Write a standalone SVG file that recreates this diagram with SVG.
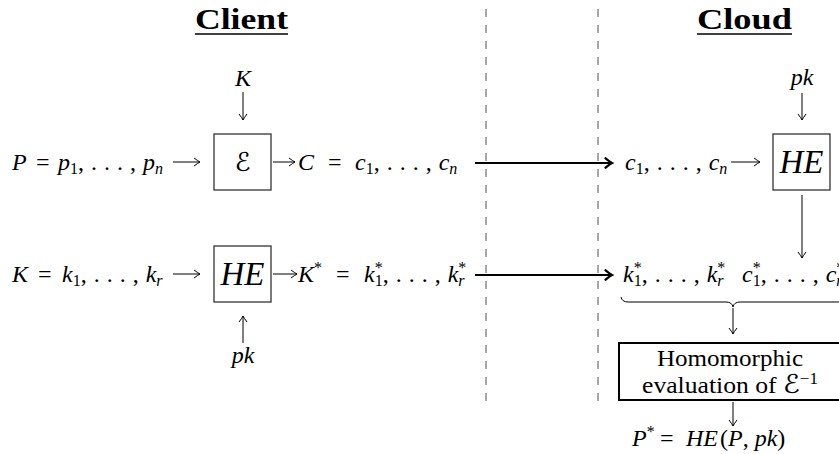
<svg xmlns="http://www.w3.org/2000/svg" width="839" height="454" viewBox="0 0 839 454">
<defs>
<style>
text{font-family:"Liberation Serif","DejaVu Serif",serif;fill:#000;font-size:24px}
.it{font-style:italic}
.sub{font-size:16px}
.ell{letter-spacing:0.5px}
.title{font-weight:bold;font-size:29px}
.cal{font-family:"DejaVu Sans","DejaVu Serif",serif;font-size:26px}
.big{font-style:italic;font-size:33px}
.conn{stroke:#000;stroke-width:1;fill:none}
.thick{stroke:#000;stroke-width:2;fill:none}
.dash{stroke:#777;stroke-width:1.3;stroke-dasharray:8 8;fill:none}
.box{stroke:#333;stroke-width:1.3;fill:#fff}
</style>
<marker id="ah" viewBox="-8 -5 10 10" refX="0" refY="0" markerWidth="10" markerHeight="10" markerUnits="userSpaceOnUse" orient="auto">
<path d="M-6,-4 Q-2,-1 0,0 Q-2,1 -6,4" stroke="#000" stroke-width="1" fill="none"/>
</marker>
<marker id="ahb" viewBox="-8 -5 10 10" refX="0" refY="0" markerWidth="12" markerHeight="12" markerUnits="userSpaceOnUse" orient="auto">
<path d="M-6,-4.5 Q-2,-1 0,0 Q-2,1 -6,4.5" stroke="#000" stroke-width="1.8" fill="none"/>
</marker>
</defs>

<g id="separators">
<line class="dash" x1="486" y1="9" x2="486" y2="402"/>
<line class="dash" x1="598" y1="9" x2="598" y2="402"/>
</g>

<g id="title-client">
<text class="title" x="195" y="29" textLength="93" lengthAdjust="spacingAndGlyphs">Client</text>
<line x1="195" y1="34" x2="288" y2="34" stroke="#000" stroke-width="1.4"/>
</g>
<g id="title-cloud">
<text class="title" x="697" y="29" textLength="95" lengthAdjust="spacingAndGlyphs">Cloud</text>
<line x1="697" y1="34" x2="792" y2="34" stroke="#000" stroke-width="1.4"/>
</g>

<g id="plaintext">
<text x="12" y="170"><tspan class="it">P</tspan><tspan x="36">=</tspan><tspan class="it" x="58">p</tspan><tspan class="sub" dy="4">1</tspan><tspan class="ell" dy="-4">, . . . , </tspan><tspan class="it">p</tspan><tspan class="sub it" dy="4">n</tspan></text>
</g>
<g id="key-K">
<text class="it" x="243" y="86" text-anchor="middle">K</text>
</g>
<g id="enc-box">
<rect class="box" x="214" y="134" width="57" height="56"/>
<text class="cal" x="242.5" y="171" text-anchor="middle">ℰ</text>
</g>
<g id="ciphertext">
<text x="298" y="170"><tspan class="it">C</tspan><tspan x="328">=</tspan><tspan class="it" x="355">c</tspan><tspan class="sub" dy="4">1</tspan><tspan class="ell" dy="-4">, . . . , </tspan><tspan class="it">c</tspan><tspan class="sub it" dy="4">n</tspan></text>
</g>

<g id="key-seq">
<text x="12" y="282"><tspan class="it">K</tspan><tspan x="38">=</tspan><tspan class="it" x="62">k</tspan><tspan class="sub" dy="4">1</tspan><tspan class="ell" dy="-4">, . . . , </tspan><tspan class="it">k</tspan><tspan class="sub it" dy="4">r</tspan></text>
</g>
<g id="he-box-client">
<rect class="box" x="214" y="246" width="57" height="56"/>
<text class="big" x="242.5" y="285" text-anchor="middle">HE</text>
</g>
<g id="pk-client">
<text class="it" x="243" y="363" text-anchor="middle">pk</text>
</g>
<g id="enc-key">
<text x="298" y="282"><tspan class="it">K</tspan><tspan class="sub" dy="-9">*</tspan><tspan x="336" dy="9">=</tspan><tspan class="it" x="364">k</tspan><tspan class="sub" dy="-9">*</tspan><tspan class="sub" dx="-8" dy="13">1</tspan><tspan class="ell" dy="-4">, . . . , </tspan><tspan class="it">k</tspan><tspan class="sub" dy="-9">*</tspan><tspan class="sub it" dx="-8" dy="13">r</tspan></text>
</g>

<g id="cloud-cipher">
<text x="625" y="170"><tspan class="it">c</tspan><tspan class="sub" dy="4">1</tspan><tspan class="ell" dy="-4">, . . . , </tspan><tspan class="it">c</tspan><tspan class="sub it" dy="4">n</tspan></text>
</g>
<g id="pk-cloud">
<text class="it" x="802" y="85" text-anchor="middle">pk</text>
</g>
<g id="he-box-cloud">
<rect class="box" x="773" y="134" width="57" height="56"/>
<text class="big" x="801.5" y="173" text-anchor="middle">HE</text>
</g>
<g id="cloud-seq">
<text x="623" y="282"><tspan class="it">k</tspan><tspan class="sub" dy="-9">*</tspan><tspan class="sub" dx="-8" dy="13">1</tspan><tspan class="ell" dy="-4">, . . . , </tspan><tspan class="it">k</tspan><tspan class="sub" dy="-9">*</tspan><tspan class="sub it" dx="-8" dy="13">r</tspan></text>
<text x="742" y="282"><tspan class="it">c</tspan><tspan class="sub" dy="-9">*</tspan><tspan class="sub" dx="-8" dy="13">1</tspan><tspan class="ell" dy="-4">, . . . , </tspan><tspan class="it">c</tspan><tspan class="sub" dy="-9">*</tspan><tspan class="sub it" dx="-8" dy="13">n</tspan></text>
<path class="conn" d="M621,297 Q622,302 628,302 L726,302 Q732,302 733,307 Q734,302 740,302 L838,302 Q844,302 845,297"/>
</g>
<g id="eval-box">
<rect x="619" y="343" width="230" height="57" fill="#fff" stroke="#000" stroke-width="2"/>
<text x="730" y="366" text-anchor="middle" textLength="146" lengthAdjust="spacingAndGlyphs">Homomorphic</text>
<text x="730" y="393" text-anchor="middle" textLength="176" lengthAdjust="spacingAndGlyphs">evaluation of <tspan class="cal" font-size="23">ℰ</tspan><tspan class="sub" dy="-9">−1</tspan></text>
</g>
<g id="result">
<text x="632" y="446"><tspan class="it">P</tspan><tspan class="sub" dy="-9">*</tspan><tspan x="660" dy="9">=</tspan><tspan class="it" x="686">HE</tspan><tspan dx="2">(</tspan><tspan class="it">P</tspan>, <tspan class="it">pk</tspan>)</text>
</g>

<g id="connectors">
<line class="conn" x1="173" y1="162" x2="200" y2="162" marker-end="url(#ah)"/>
<line class="conn" x1="273" y1="162" x2="295" y2="162" marker-end="url(#ah)"/>
<line class="conn" x1="243" y1="92" x2="243" y2="120" marker-end="url(#ah)"/>
<line class="thick" x1="475" y1="163" x2="612" y2="163" marker-end="url(#ahb)"/>
<line class="conn" x1="731" y1="162" x2="760" y2="162" marker-end="url(#ah)"/>
<line class="conn" x1="802" y1="93" x2="802" y2="120" marker-end="url(#ah)"/>
<line class="conn" x1="173" y1="274" x2="200" y2="274" marker-end="url(#ah)"/>
<line class="conn" x1="273" y1="274" x2="297" y2="274" marker-end="url(#ah)"/>
<line class="conn" x1="243" y1="343" x2="243" y2="316" marker-end="url(#ah)"/>
<line class="thick" x1="475" y1="275" x2="612" y2="275" marker-end="url(#ahb)"/>
<line class="conn" x1="802" y1="195" x2="802" y2="258" marker-end="url(#ah)"/>
<line class="conn" x1="733" y1="308" x2="733" y2="334" marker-end="url(#ah)"/>
<line class="conn" x1="733" y1="402" x2="733" y2="426" marker-end="url(#ah)"/>
</g>
</svg>
